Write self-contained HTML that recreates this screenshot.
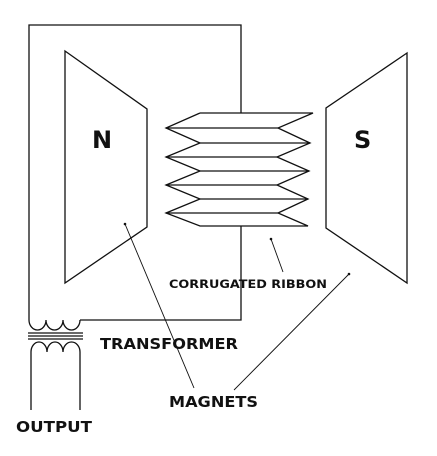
<!DOCTYPE html>
<html><head><style>
html,body{margin:0;padding:0;background:#fff;}
svg{display:block}
text{font-family:"DejaVu Sans","Liberation Sans",sans-serif;fill:#111;font-weight:bold}
</style></head><body>
<svg width="437" height="456" viewBox="0 0 437 456" xmlns="http://www.w3.org/2000/svg">
<g fill="none" stroke="#111" stroke-width="1.3">
<polyline points="241,113 241,25 29,25 29,320"/>
<polyline points="241,226 241,320 80,320"/>
<path d="M29,320 a8.5,10 0 0 0 17,0 a8.5,10 0 0 0 17,0 a8.5,10 0 0 0 17,0"/>
<line x1="28" y1="333" x2="83" y2="333"/>
<line x1="28" y1="336" x2="83" y2="336"/>
<line x1="28" y1="339" x2="83" y2="339"/>
<path d="M31,410 V352 a8,10 0 0 1 16,0 a8,10 0 0 1 16,0 a8.5,10 0 0 1 17,0 V410"/>
<polygon points="65,51 147,109 147,227 65,283"/>
<polygon points="407,53 326,108 326,228 407,283"/>
<polyline points="200,113 166,128 200,143 166,157 200,171 166,185 200,199 166,213 200,226 308,226 278,213 308,199 277,185 309,171 277,157 310,143 278,128 313,113 200,113"/>
<line x1="166" y1="128" x2="278" y2="128"/>
<line x1="200" y1="143" x2="310" y2="143"/>
<line x1="166" y1="157" x2="277" y2="157"/>
<line x1="200" y1="171" x2="309" y2="171"/>
<line x1="166" y1="185" x2="277" y2="185"/>
<line x1="200" y1="199" x2="308" y2="199"/>
<line x1="166" y1="213" x2="278" y2="213"/>
<g stroke-width="0.9">
<line x1="125" y1="224" x2="194" y2="388"/>
<line x1="271" y1="239" x2="283" y2="272"/>
<line x1="349" y1="274" x2="234" y2="390"/>
</g>
</g>
<circle cx="125" cy="224" r="1.3" fill="#111"/>
<circle cx="271" cy="239" r="1.3" fill="#111"/>
<circle cx="349" cy="274" r="1.3" fill="#111"/>
<text x="92" y="148" font-size="24">N</text>
<text x="354" y="148" font-size="24">S</text>
<text x="169" y="288" font-size="11.5" textLength="158" lengthAdjust="spacingAndGlyphs">CORRUGATED RIBBON</text>
<text x="100" y="349" font-size="15" textLength="138" lengthAdjust="spacingAndGlyphs">TRANSFORMER</text>
<text x="169" y="407" font-size="15" textLength="89" lengthAdjust="spacingAndGlyphs">MAGNETS</text>
<text x="16" y="432" font-size="15" textLength="76" lengthAdjust="spacingAndGlyphs">OUTPUT</text>
</svg>
</body></html>
